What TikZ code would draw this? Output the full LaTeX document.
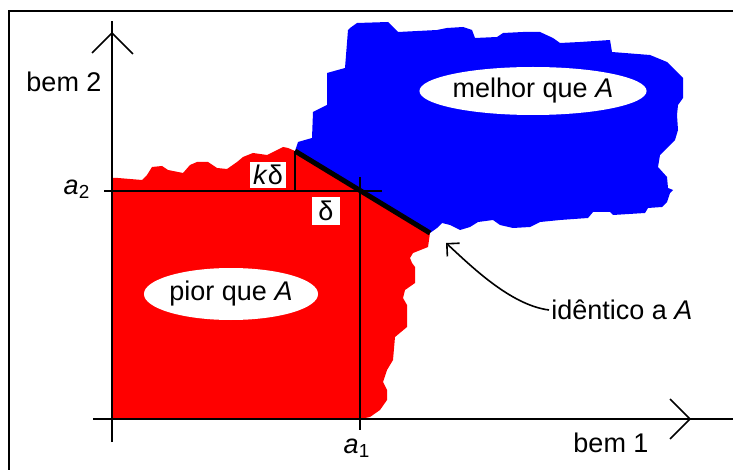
\documentclass[tikz,border=0pt]{standalone}
\usepackage{fontspec}
\setmainfont{Liberation Sans}
\usetikzlibrary{shapes.geometric}
\usetikzlibrary{arrows.meta}

\begin{document}
\begin{tikzpicture}[x=0.5pt, y=-0.5pt, font=\fontsize{13.5}{16}\selectfont,
    axis/.style={line width=0.8pt},
    region/.style={ellipse, fill=white, inner sep=0pt},
    tag/.style={fill=white, inner sep=1.5pt, minimum height=12pt}]
  \useasboundingbox (0,0) rectangle (733,470);
  \clip (0,0) rectangle (733,470);

  % frame
  \draw[line width=1pt] (760,11) -- (9,11) -- (9,490);

  % pior que A
  \fill[red] (112,419) -- (112,178) -- (118,178) -- (130,179) -- (142,180)
    -- (147,175) -- (152,167) -- (162,166) -- (168,170) -- (183,173)
    -- (190,165) -- (197,162) -- (208,162) -- (217,168) -- (227,169)
    -- (237,162) -- (243,157) -- (253,153) -- (267,155) -- (277,150)
    -- (283,147) -- (288,148) -- (295,151) -- (430,233) -- (428,247)
    -- (413,253) -- (410,258) -- (412,263) -- (415,267) -- (415,283)
    -- (405,290) -- (403,298) -- (407,305) -- (407,327) -- (395,337)
    -- (393,360) -- (387,370) -- (383,382) -- (387,390) -- (387,400)
    -- (380,410) -- (370,417) -- (360,419) -- cycle;

  % melhor que A
  \fill[blue] (295,151) -- (430,233) -- (437,228) -- (442,223) -- (450,225)
    -- (460,230) -- (470,227) -- (478,222) -- (493,220) -- (500,225)
    -- (513,228) -- (530,227) -- (540,222) -- (560,220) -- (588,218)
    -- (593,212) -- (610,212) -- (613,215) -- (645,213) -- (648,208)
    -- (662,207) -- (667,202) -- (670,193) -- (673,190) -- (668,188)
    -- (667,177) -- (658,167) -- (660,155) -- (675,140) -- (678,130)
    -- (677,115) -- (678,105) -- (683,98) -- (683,78)
    -- (677,72) -- (667,62) -- (650,55) -- (612,52) -- (610,40)
    -- (580,42) -- (560,43) -- (553,38) -- (540,32) -- (523,32)
    -- (503,33) -- (497,37) -- (475,38) -- (472,30) -- (463,27)
    -- (447,28) -- (437,30) -- (398,32) -- (388,22) -- (357,23)
    -- (350,28) -- (348,30) -- (345,68) -- (327,73) -- (327,105)
    -- (313,112) -- (312,138) -- (298,142) -- (296,148) -- cycle;

  \node[region, minimum width=99pt, minimum height=24pt] (melhor) at (533,91) {melhor que \textit{A}};
  \node[region, minimum width=80pt, minimum height=26pt] (pior) at (231,294) {pior que \textit{A}};

  % axes
  \coordinate (ytip) at (112,33);
  \coordinate (xtip) at (690,419);
  \draw[axis] (112,442) -- (112,21);
  \draw[axis] (93,419) -- (733,419);
  \draw[axis] (92,53) -- (ytip) -- (133,54);
  \draw[axis] (670,399) -- (xtip) -- (670,439);
  \node (bem2) at (64,82) {bem 2};
  \node (bem1) at (611,443) {bem 1};

  % A = (a1,a2)
  \coordinate (A) at (360,191);
  \coordinate (kd) at (295,151);
  \coordinate (low) at (430,233);
  \draw[axis] (104,191) -- (382,191);
  \draw[axis] (360,177) -- (360,430);
  \draw[axis] (kd) -- (kd |- A);
  \draw[line width=2.5pt] (kd) -- (low);
  \node (a2) at (77,189) {\textit{a}\textsubscript{2}};
  \node (a1) at (357,448) {\textit{a}\textsubscript{1}};
  \node[tag] (kdelta) at (268,175) {\textit{k}δ};
  \node[tag, minimum size=14pt] (delta) at (326,211) {δ};

  \node[anchor=west, inner sep=1pt] (same) at (549,310) {idêntico a \textit{A}};
  \coordinate (tip) at (446,243);
  \draw[line width=0.8pt, -{Straight Barb[length=4.5pt,width=9pt]}] (same.west)
    .. controls (510,305) and (470,265) .. (tip);
\end{tikzpicture}
\end{document}
